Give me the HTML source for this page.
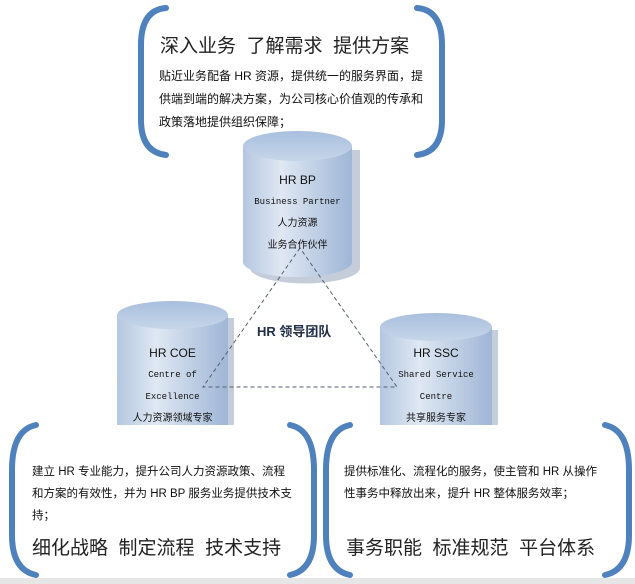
<!DOCTYPE html>
<html><head><meta charset="utf-8"><style>
body{margin:0;width:635px;height:584px;background:#fff;overflow:hidden;position:relative;font-family:"Liberation Sans","Noto Sans CJK SC",sans-serif;}
.t{position:absolute;color:#111;white-space:nowrap;}
</style></head><body>
<svg width="635" height="584" style="position:absolute;left:0;top:0">
<defs>
<linearGradient id="g" x1="0" x2="1" y1="0" y2="0">
<stop offset="0" stop-color="#b4c7e0"/><stop offset="0.35" stop-color="#dfe8f3"/><stop offset="1" stop-color="#9fb6d6"/>
</linearGradient>
<linearGradient id="gt" x1="0" x2="0" y1="0" y2="1"><stop offset="0" stop-color="#a9bfdd"/><stop offset="1" stop-color="#c6d6ea"/></linearGradient>
</defs>
<rect x="0" y="578" width="635" height="6" fill="#e6e6e6"/>
<g fill="none" stroke="#4f81bd" stroke-width="6" stroke-linecap="round">
<path d="M166 8 Q141 10 141 45 L141 120 Q141 152 166 155"/>
<path d="M417 8 Q442 10 442 45 L442 120 Q442 152 417 155"/>
</g>
<g>
<path d="M250 150 L250 268 A50 14 0 0 0 360 268 L360 150 Z" fill="#8a9bb3" opacity="0.5"/>
<path d="M243 146 L243 262 A54.5 15 0 0 0 352 262 L352 146 Z" fill="url(#g)"/>
<ellipse cx="297.5" cy="146" rx="54.5" ry="15" fill="url(#gt)"/>
<path d="M123 318 L123 430 L234 430 L234 318 Z" fill="#8a9bb3" opacity="0.5"/>
<path d="M117 315 L117 430 L228 430 L228 315 Z" fill="url(#g)"/>
<ellipse cx="172.5" cy="315" rx="55.5" ry="14" fill="url(#gt)"/>
<path d="M386 330 L386 430 L498 430 L498 330 Z" fill="#8a9bb3" opacity="0.5"/>
<path d="M380 327 L380 430 L492 430 L492 327 Z" fill="url(#g)"/>
<ellipse cx="436" cy="327" rx="56" ry="14" fill="url(#gt)"/>
</g>
<path d="M300 248 L203 387 L397 387 Z" fill="none" stroke="#555e70" stroke-width="1" stroke-dasharray="4,3"/>
<rect x="0" y="425" width="635" height="153" fill="#fff"/>
<g fill="none" stroke="#4f81bd" stroke-width="6" stroke-linecap="round">
<path d="M36 425 Q12 430 12 470 L12 535 Q12 570 36 575"/>
<path d="M290 425 Q314 430 314 470 L314 535 Q314 570 290 575"/>
<path d="M350 425 Q326 430 326 470 L326 535 Q326 570 350 575"/>
<path d="M605 425 Q629 430 629 470 L629 535 Q629 570 605 575"/>
</g>
</svg>
<div class="t" style="left:160px;top:31px;font-size:19px;color:#222">深入业务&nbsp; 了解需求&nbsp; 提供方案</div>
<div class="t" style="left:159px;top:65px;font-size:12px;line-height:23px">贴近业务配备 HR 资源，提供统一的服务界面，提<br>供端到端的解决方案，为公司核心价值观的传承和<br>政策落地提供组织保障；</div>
<div class="t" style="left:243px;top:170px;width:109px;text-align:center;font-size:12px;line-height:20px">HR BP<br><span style="font-size:9px;font-family:'Liberation Mono',monospace">Business Partner</span><br><span style="font-size:10px">人力资源</span><br><span style="font-size:10px">业务合作伙伴</span></div>
<div class="t" style="left:117px;top:343px;width:111px;text-align:center;font-size:12px;line-height:20px">HR COE<br><span style="font-size:9px;font-family:'Liberation Mono',monospace">Centre of</span><br><span style="font-size:9px;font-family:'Liberation Mono',monospace">Excellence</span><br><span style="font-size:10px">人力资源领域专家</span></div>
<div class="t" style="left:380px;top:343px;width:112px;text-align:center;font-size:12px;line-height:20px">HR SSC<br><span style="font-size:9px;font-family:'Liberation Mono',monospace">Shared Service</span><br><span style="font-size:9px;font-family:'Liberation Mono',monospace">Centre</span><br><span style="font-size:10px">共享服务专家</span></div>
<div class="t" style="left:257px;top:321px;font-size:13px;font-weight:bold;color:#1f2d45">HR 领导团队</div>
<div class="t" style="left:32px;top:461px;font-size:11.5px;line-height:22px">建立 HR 专业能力，提升公司人力资源政策、流程<br>和方案的有效性，并为 HR BP 服务业务提供技术支<br>持；</div>
<div class="t" style="left:32px;top:533px;font-size:19px;color:#222">细化战略&nbsp; 制定流程&nbsp; 技术支持</div>
<div class="t" style="left:344px;top:461px;font-size:11.5px;line-height:22px">提供标准化、流程化的服务，使主管和 HR 从操作<br>性事务中释放出来，提升 HR 整体服务效率；</div>
<div class="t" style="left:346px;top:533px;font-size:19px;color:#222">事务职能&nbsp; 标准规范&nbsp; 平台体系</div>
</body></html>
